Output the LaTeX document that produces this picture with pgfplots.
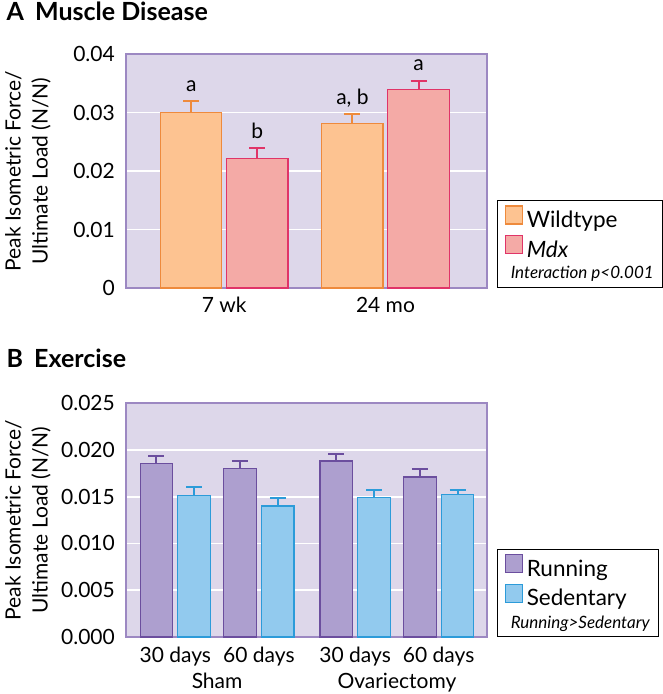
\documentclass[border=0pt]{standalone}
\usepackage{pgfplots}
\usepackage{pgfplotstable}
\pgfplotsset{compat=1.18}
\usepackage{fontspec}
\setmainfont{Lato}
\definecolor{bgcol}{HTML}{DDD7EA}
\definecolor{framecol}{HTML}{9C88C2}
\definecolor{wtfill}{HTML}{FDC391}
\definecolor{wtedge}{HTML}{EE8A3C}
\definecolor{mdxfill}{HTML}{F4AAA6}
\definecolor{mdxedge}{HTML}{E03468}
\definecolor{runfill}{HTML}{AD9FCF}
\definecolor{runedge}{HTML}{6B4E9E}
\definecolor{sedfill}{HTML}{92CAEE}
\definecolor{sededge}{HTML}{2C9BD9}

\pgfplotstableread{
x y e
0 0.0300 0.0019
1 0.0281 0.0016
}\wt
\pgfplotstableread{
x y e
0 0.0222 0.0017
1 0.0339 0.0015
}\mdx
\pgfplotstableread{
x y e
0     0.0185 0.0008
1     0.0180 0.0008
2.152 0.0188 0.0007
3.152 0.0171 0.0008
}\run
\pgfplotstableread{
x y e
0     0.0151 0.0009
1     0.0140 0.0009
2.152 0.0149 0.0008
3.152 0.0152 0.0005
}\sed

\pgfplotsset{
  panel/.style={
    scale only axis, width=361pt, height=234pt,
    clip=false,
    axis background/.style={fill=bgcol},
    axis line style={draw=framecol, line width=1.2pt},
    ymajorgrids, grid style={white, line width=1.8pt},
    major tick length=0pt,
    ybar, ymin=0,
    scaled y ticks=false,
    tick label style={font=\fontsize{21}{25}\selectfont},
    yticklabel style={anchor=east, inner sep=0pt, xshift=-11pt},
    xticklabel style={anchor=base, inner sep=0pt, yshift=-25pt},
    every axis y label/.style={at={(axis description cs:-0.272,0.5)}, rotate=90, anchor=center, align=center, font=\fontsize{21}{27}\selectfont},
    ylabel={Peak Isometric Force/\\Ultimate Load (N/N)},
    legend style={at={(axis description cs:1.028,0)}, anchor=south west, draw=black, line width=1pt, font=\fontsize{22.5}{26}\selectfont, row sep=4pt, column sep=2pt, inner xsep=7pt, inner ysep=5pt},
    legend cell align=left,
    error bars/y dir=plus, error bars/y explicit,
  },
  ebar/.style={error bars/error bar style={#1, line width=2pt}, error bars/error mark options={#1, rotate=90, line width=2pt, mark size=8pt}},
}

\begin{document}
\begin{tikzpicture}
\useasboundingbox (0,0) rectangle (663pt,694pt);
\node[anchor=base west, font=\fontsize{25}{29}\selectfont\bfseries] at (3pt,673pt) {A\hspace{0.45em}Muscle Disease};
\node[anchor=base west, font=\fontsize{25}{29}\selectfont\bfseries] at (3pt,326pt) {B\hspace{0.45em}Exercise};

\begin{axis}[panel, at={(126pt,406pt)}, anchor=south west,
  xmin=-0.61, xmax=1.63, ymax=0.04,
  xtick={0,1}, xticklabels={7 wk,24 mo},
  ytick={0,0.01,0.02,0.03,0.04}, yticklabels={0,0.01,0.02,0.03,0.04},
  bar width=0.38,
  legend image code/.code={\draw[#1,/tikz/.cd,line width=1.2pt] (0pt,-4pt) rectangle (17pt,14pt);},
]
\addplot[fill=wtfill, draw=wtedge, line width=1.2pt, bar shift=-0.205, ebar=wtedge] table[x=x,y=y,y error=e] {\wt};
\addlegendentry{Wildtype}
\addplot[fill=mdxfill, draw=mdxedge, line width=1.2pt, bar shift=0.205, ebar=mdxedge] table[x=x,y=y,y error=e] {\mdx};
\addlegendentry{\textit{Mdx}}
\addlegendimage{empty legend}
\addlegendentry{\hspace*{-16pt}\fontsize{17}{20}\selectfont\itshape Interaction p<0.001}
\node[anchor=base, yshift=10pt, font=\fontsize{21}{25}\selectfont] at (axis cs:-0.205,0.0319) {a};
\node[anchor=base, yshift=10pt, font=\fontsize{21}{25}\selectfont] at (axis cs:0.205,0.0239) {b};
\node[anchor=base, yshift=10pt, font=\fontsize{21}{25}\selectfont] at (axis cs:0.795,0.0297) {a, b};
\node[anchor=base, yshift=10pt, font=\fontsize{21}{25}\selectfont] at (axis cs:1.205,0.0354) {a};
\end{axis}

\begin{axis}[panel, at={(126pt,57pt)}, anchor=south west,
  xmin=-0.59, xmax=3.73, ymax=0.025,
  xtick={0,1,2.152,3.152}, xticklabels={30 days,60 days,30 days,60 days},
  ytick={0,0.005,0.01,0.015,0.02,0.025}, yticklabels={0.000,0.005,0.010,0.015,0.020,0.025},
  bar width=0.39,
  legend image code/.code={\draw[#1,/tikz/.cd,line width=1.2pt] (0pt,-4pt) rectangle (17pt,14pt);},
]
\addplot[fill=runfill, draw=runedge, line width=1.2pt, bar shift=-0.226, ebar=runedge] table[x=x,y=y,y error=e] {\run};
\addlegendentry{Running}
\addplot[fill=sedfill, draw=sededge, line width=1.2pt, bar shift=0.226, ebar=sededge] table[x=x,y=y,y error=e] {\sed};
\addlegendentry{Sedentary}
\addlegendimage{empty legend}
\addlegendentry{\hspace*{-16pt}\fontsize{17}{20}\selectfont\itshape Running>Sedentary}
\node[anchor=base, yshift=-51pt, font=\fontsize{21}{25}\selectfont] at (axis cs:0.5,0) {Sham};
\node[anchor=base, yshift=-51pt, font=\fontsize{21}{25}\selectfont] at (axis cs:2.652,0) {Ovariectomy};
\end{axis}
\end{tikzpicture}
\end{document}
